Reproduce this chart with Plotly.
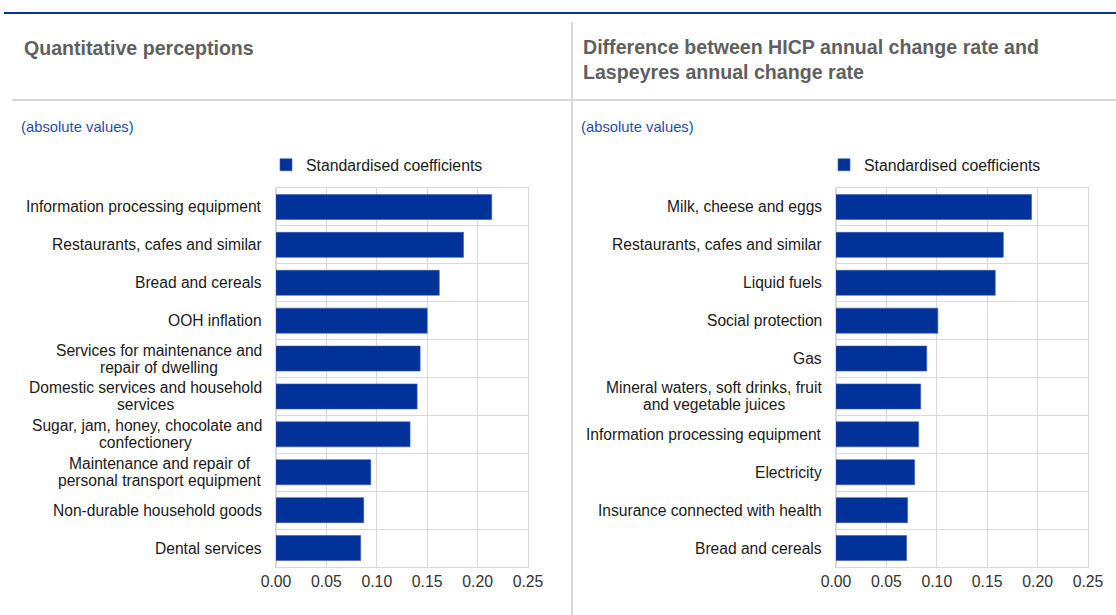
import plotly.graph_objects as go

W, H = 1116, 615

left_categories = [
    "Information processing equipment",
    "Restaurants, cafes and similar",
    "Bread and cereals",
    "OOH inflation",
    "Services for maintenance and<br>repair of dwelling",
    "Domestic services and household<br>services",
    "Sugar, jam, honey, chocolate and<br>confectionery",
    "Maintenance and repair of<br>personal transport equipment",
    "Non-durable household goods",
    "Dental services",
]
left_values = [0.214, 0.186, 0.162, 0.150, 0.143, 0.140, 0.133, 0.094, 0.087, 0.084]

right_categories = [
    "Milk, cheese and eggs",
    "Restaurants, cafes and similar ",
    "Liquid fuels",
    "Social protection",
    "Gas",
    "Mineral waters, soft drinks, fruit<br>and vegetable juices",
    "Information processing equipment ",
    "Electricity",
    "Insurance connected with health",
    "Bread and cereals ",
]
right_values = [0.194, 0.166, 0.158, 0.101, 0.090, 0.084, 0.082, 0.078, 0.071, 0.070]

x_ticks = [0.0, 0.05, 0.10, 0.15, 0.20, 0.25]
series_name = "Standardised coefficients"
titles = ["Quantitative perceptions",
          "Difference between HICP annual change rate and<br>Laspeyres annual change rate"]
subtitle = "(absolute values)"

BLUE = "#003299"
GRID = "#d9d9d9"
FONT = "Liberation Sans, Arial, sans-serif"
TXT = "#1a1a1a"
LBL_SIZE = 15.6

def px(x):
    return x / W

def py(y):
    return 1 - y / H

# Arial / Liberation Sans advance widths (1/1000 em) for centring multi-line labels
AW = {" ": 278, ",": 278, ".": 278, "-": 333, "a": 556, "b": 556, "c": 500, "d": 556, "e": 556,
      "f": 278, "g": 556, "h": 556, "i": 222, "j": 222, "k": 500, "l": 222, "m": 833, "n": 556,
      "o": 556, "p": 556, "q": 556, "r": 333, "s": 500, "t": 278, "u": 556, "v": 500, "w": 722,
      "x": 500, "y": 500, "z": 500, "A": 667, "B": 667, "C": 722, "D": 722, "E": 667, "F": 611,
      "G": 778, "H": 722, "I": 278, "J": 500, "K": 667, "L": 556, "M": 833, "N": 722, "O": 778,
      "P": 667, "Q": 778, "R": 722, "S": 667, "T": 611, "U": 722, "V": 667, "W": 944}

def text_w(s, size=LBL_SIZE):
    return sum(AW.get(ch, 556) for ch in s) * size / 1000.0

fig = go.Figure()

fig.add_trace(go.Bar(x=left_values, y=left_categories, orientation="h",
                     marker=dict(color=BLUE, line=dict(color="#3a5bb0", width=0.6)),
                     width=0.66, name=series_name, xaxis="x", yaxis="y",
                     legend="legend", showlegend=True, hoverinfo="skip"))
fig.add_trace(go.Bar(x=right_values, y=right_categories, orientation="h",
                     marker=dict(color=BLUE, line=dict(color="#3a5bb0", width=0.6)),
                     width=0.66, name=series_name, xaxis="x2", yaxis="y2",
                     legend="legend2", showlegend=True, hoverinfo="skip"))

ydom = [py(567), py(188)]
xcommon = dict(range=[0, 0.25], tickvals=x_ticks, tickformat=".2f", showgrid=True,
               gridcolor=GRID, gridwidth=1, zeroline=True, zerolinecolor=GRID,
               showline=True, linecolor=GRID, mirror=True, ticks="", automargin=False,
               tickfont=dict(family=FONT, size=15.8, color="#333333"), fixedrange=True)
ycommon = dict(autorange="reversed", showticklabels=False, showgrid=True, gridcolor=GRID,
               tickson="boundaries", ticks="", showline=True, linecolor=GRID, mirror=True,
               domain=ydom, fixedrange=True, automargin=False)

legfont = dict(family=FONT, size=15.8, color=TXT)
fig.update_layout(
    width=W, height=H,
    autosize=False,
    margin=dict(l=0, r=0, t=0, b=0, pad=0, autoexpand=False),
    paper_bgcolor="white", plot_bgcolor="white",
    font=dict(family=FONT, size=16, color=TXT),
    bargap=0.34,
    xaxis=dict(domain=[px(276), px(528)], anchor="y", **xcommon),
    yaxis=dict(anchor="x", **ycommon),
    xaxis2=dict(domain=[px(836), px(1088)], anchor="y2", **xcommon),
    yaxis2=dict(anchor="x2", **ycommon),
    legend=dict(x=px(266), y=py(165), xanchor="left", yanchor="middle",
                font=legfont, bgcolor="rgba(0,0,0,0)", itemwidth=30),
    legend2=dict(x=px(824), y=py(165), xanchor="left", yanchor="middle",
                 font=legfont, bgcolor="rgba(0,0,0,0)", itemwidth=30),
    showlegend=True,
    hovermode=False,
)

annotations = []
LINE = 17
for cats, xr, yr in [(left_categories, "x domain", "y"), (right_categories, "x2 domain", "y2")]:
    for c in cats:
        lines = [s.strip() for s in c.split("<br>")]
        n = len(lines)
        wmax = max(text_w(s) for s in lines)
        for i, ln in enumerate(lines):
            annotations.append(dict(x=0, y=c, xref=xr, yref=yr, text=ln, showarrow=False,
                                    xanchor="right", yanchor="middle", align="right",
                                    xshift=-12 - (wmax - text_w(ln)) / 2,
                                    yshift=((n - 1) / 2 - i) * LINE,
                                    font=dict(family=FONT, size=LBL_SIZE, color=TXT)))

annotations.append(dict(x=px(22), y=py(48), xref="paper", yref="paper", text="<b>" + titles[0] + "</b>",
                        showarrow=False, xanchor="left", yanchor="middle", align="left",
                        font=dict(family=FONT, size=19.6, color="#5f5f5f")))
annotations.append(dict(x=px(581), y=py(60), xref="paper", yref="paper", text="<b>" + titles[1] + "</b>",
                        showarrow=False, xanchor="left", yanchor="middle", align="left",
                        font=dict(family=FONT, size=19.6, color="#5f5f5f")))
annotations.append(dict(x=px(19), y=py(127), xref="paper", yref="paper", text=subtitle,
                        showarrow=False, xanchor="left", yanchor="middle",
                        font=dict(family=FONT, size=14.8, color="#1f4fa8")))
annotations.append(dict(x=px(579), y=py(127), xref="paper", yref="paper", text=subtitle,
                        showarrow=False, xanchor="left", yanchor="middle",
                        font=dict(family=FONT, size=14.8, color="#1f4fa8")))
fig.update_layout(annotations=annotations)

shapes = [
    dict(type="line", xref="paper", yref="paper", x0=px(4), x1=1, y0=py(13), y1=py(13),
         line=dict(color=BLUE, width=2)),
    dict(type="line", xref="paper", yref="paper", x0=px(12), x1=1, y0=py(100), y1=py(100),
         line=dict(color=GRID, width=2)),
    dict(type="line", xref="paper", yref="paper", x0=px(572), x1=px(572), y0=py(22), y1=0,
         line=dict(color=GRID, width=2)),
]
fig.update_layout(shapes=shapes)

fig.write_html("out.html", config={"displayModeBar": False, "staticPlot": True},
               post_script="document.body.style.margin='0';")
